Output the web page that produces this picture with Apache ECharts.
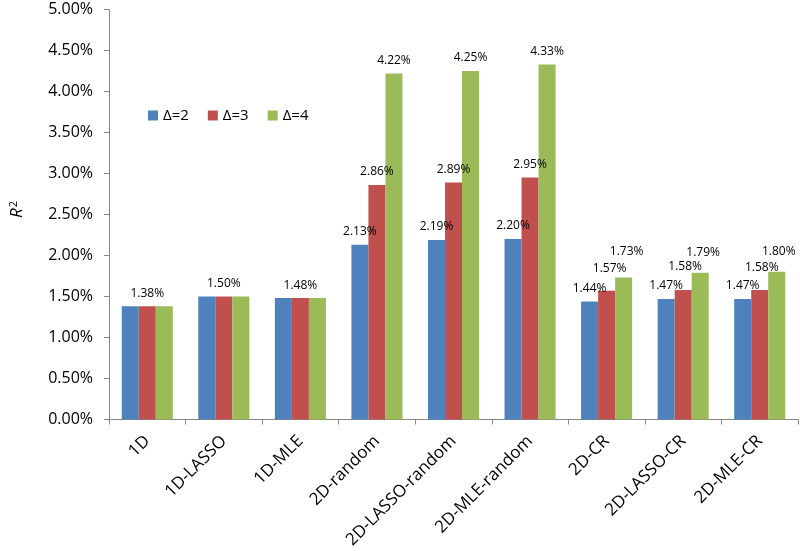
<!DOCTYPE html>
<html>
<head>
<meta charset="utf-8">
<script src="https://cdn.jsdelivr.net/npm/echarts@6/dist/echarts.min.js"></script>
<style>html,body{margin:0;padding:0;background:#fff}#c{width:800px;height:551px}</style>
</head>
<body>
<div id="c"></div>
<script>
const categories = ['1D','1D-LASSO','1D-MLE','2D-random','2D-LASSO-random','2D-MLE-random','2D-CR','2D-LASSO-CR','2D-MLE-CR'];
const seriesNames = ['Δ=2','Δ=3','Δ=4'];
const delta2 = [1.38,1.50,1.48,2.13,2.19,2.20,1.44,1.47,1.47];
const delta3 = [1.38,1.50,1.48,2.86,2.89,2.95,1.57,1.58,1.58];
const delta4 = [1.38,1.50,1.48,4.22,4.25,4.33,1.73,1.79,1.80];
const yMin = 0, yMax = 5, yStep = 0.5;

const colors = ['#4F81BD','#C0504D','#9BBB59'];
const FONT = 'Open Sans';
// label nudges (style only) keyed by category index -> series index -> [dx, dy]
const labelShift = {
  6: {1:[3,-9], 2:[3,-13]},
  7: {1:[2,-10], 2:[3,-7]},
  8: {1:[2,-9], 2:[2,-7]}
};
const all = [delta2, delta3, delta4];
function buildData(si) {
  return all[si].map((v, ci) => {
    const same = all[0][ci] === all[1][ci] && all[1][ci] === all[2][ci];
    const show = !same || si === 1;
    const sh = (labelShift[ci] && labelShift[ci][si]) || [0,0];
    return { value: v, label: { show: show, offset: sh } };
  });
}
const chart = echarts.init(document.getElementById('c'));
chart.setOption({
  animation: false,
  textStyle: { fontFamily: FONT },
  grid: { left: 109, right: 2, top: 9.5, bottom: 129.5, containLabel: false },
  legend: {
    left: 143, top: 103, itemWidth: 10, itemHeight: 10, itemGap: 19,
    icon: 'rect',
    textStyle: { fontFamily: FONT, fontSize: 15, color: '#000' },
    data: seriesNames
  },
  xAxis: {
    type: 'category', data: categories,
    axisLine: { lineStyle: { color: '#868686', width: 1 } },
    axisTick: { show: true, length: 5, lineStyle: { color: '#868686' } },
    axisLabel: { rotate: 45, margin: 19, fontSize: 17, color: '#000', fontFamily: FONT, interval: 0 }
  },
  yAxis: {
    type: 'value', min: yMin, max: yMax, interval: yStep,
    name: '{i|R}{s|2}', nameLocation: 'middle', nameGap: 82,
    nameTextStyle: {
      padding: [0, 0, 0, 10],
      rich: {
        i: { fontSize: 17, fontStyle: 'italic', fontFamily: FONT, color: '#000' },
        s: { fontSize: 11, fontFamily: FONT, color: '#000', verticalAlign: 'top', padding: [0,0,8,1] }
      }
    },
    axisLine: { show: true, lineStyle: { color: '#868686', width: 1 } },
    axisTick: { show: true, length: 5, lineStyle: { color: '#868686' } },
    splitLine: { show: false },
    axisLabel: { margin: 16, fontSize: 16, color: '#000', fontFamily: FONT,
      formatter: v => v.toFixed(2) + '%' }
  },
  series: seriesNames.map((n, si) => ({
    name: n, type: 'bar', data: buildData(si),
    barGap: '0%', barCategoryGap: '33.3%',
    itemStyle: { color: colors[si] },
    label: { position: 'top', distance: 7, fontSize: 12, color: '#000', fontFamily: FONT,
      formatter: p => p.value.toFixed(2) + '%' }
  }))
});
</script>
</body>
</html>
